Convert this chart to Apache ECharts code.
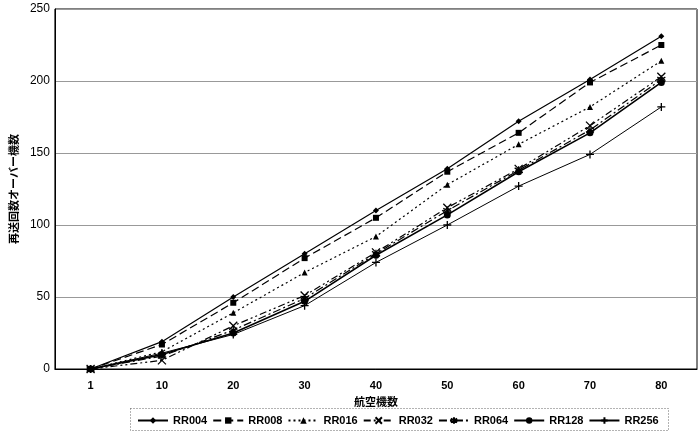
<!DOCTYPE html>
<html><head><meta charset="utf-8">
<script src="https://cdn.jsdelivr.net/npm/echarts@6/dist/echarts.min.js"></script>
<style>html,body{margin:0;padding:0;background:#fff}#c{width:700px;height:432px}</style>
</head><body><div id="c"></div>
<script>
const categories = ['1','10','20','30','40','50','60','70','80'];
const seriesNames = ['RR004','RR008','RR016','RR032','RR064','RR128','RR256'];
const RR004 = [0, 19, 50, 80, 110, 139, 172, 201, 231];
const RR008 = [0, 17, 46, 77, 105, 137, 164, 199, 225];
const RR016 = [0, 12, 39, 67, 92, 128, 156, 182, 214];
const RR032 = [0, 6, 30, 51, 81, 112, 139, 169, 203];
const RR064 = [0, 9, 27, 49, 80, 110, 138, 166, 201];
const RR128 = [0, 10, 25, 47, 79, 107, 137, 164, 199];
const RR256 = [0, 11, 24, 44, 74, 100, 127, 149, 182];
const yTicks = [0, 50, 100, 150, 200, 250];

const values = [RR004, RR008, RR016, RR032, RR064, RR128, RR256];
const xPath = 'path://M0,0L10,10M10,0L0,10';
const plusPath = 'path://M5,0L5,10M0,5L10,5';
const starPath = 'path://M5,0L5,10M0,2L10,8M10,2L0,8';
const symbols = ['diamond','rect','triangle', xPath, starPath, 'circle', plusPath];
const sizes = [6,6,6,8,8,7,8];
const dashes = ['solid',[8,4],[2,3],[7,3,2,3,2,3],[8,3,2,3],'solid','solid'];
const widths = [1.2,1.2,1.2,1.2,1.2,1.6,1];

const chart = echarts.init(document.getElementById('c'));
const font = 'Liberation Sans, Arial, sans-serif';
chart.setOption({
  animation: false,
  backgroundColor: '#fff',
  grid: {left: 44, right: 3, top: 9, bottom: 63, show: true, borderColor: '#000', borderWidth: 1},
  xAxis: {
    type: 'category', data: categories, boundaryGap: true,
    name: '航空機数', nameLocation: 'middle', nameGap: 24,
    nameTextStyle: {fontFamily: 'Noto Sans CJK JP', fontWeight: 'bold', fontSize: 11, color: '#000'},
    axisLine: {lineStyle: {color: '#000'}}, axisTick: {show: false},
    axisLabel: {color: '#000', fontFamily: font, fontSize: 11, fontWeight: 'bold', margin: 11}
  },
  yAxis: {
    type: 'value', min: 0, max: 250, interval: 50,
    name: '再送回数オーバー機数', nameLocation: 'middle', nameGap: 26, nameRotate: 90,
    nameTextStyle: {fontFamily: 'Noto Sans CJK JP', fontWeight: 'bold', fontSize: 11, color: '#000'},
    axisLine: {show: true, lineStyle: {color: '#000'}}, axisTick: {show: false},
    axisLabel: {color: '#000', fontFamily: font, fontSize: 12, margin: 5,
      formatter: v => yTicks.includes(v) ? String(v) : ''},
    splitLine: {lineStyle: {color: '#999', width: 1}}
  },
  legend: {
    top: 410, left: 132, itemWidth: 30, itemHeight: 8, itemGap: 5,
    textStyle: {color: '#000', fontFamily: font, fontSize: 11, fontWeight: 'bold'},
    data: seriesNames
  },
  graphic: [{type: 'rect', left: 128, top: 406, shape: {width: 538, height: 22},
    style: {fill: 'none', stroke: '#666', lineWidth: 1, lineDash: [1,2]}}],
  series: seriesNames.map((n, i) => ({
    name: n, type: 'line', data: values[i],
    symbol: symbols[i], symbolSize: sizes[i], showAllSymbol: true,
    itemStyle: {color: '#000', borderColor: '#000', borderWidth: (i===3||i===4||i===6)?1.3:0},
    lineStyle: {color: '#000', width: widths[i], type: dashes[i]}
  }))
});
</script></body></html>
